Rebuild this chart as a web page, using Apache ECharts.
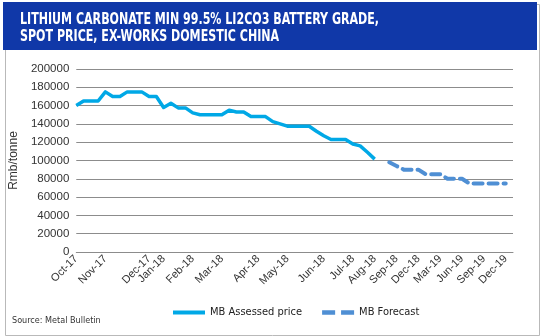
<!DOCTYPE html>
<html>
<head>
<meta charset="utf-8">
<script src="https://cdn.jsdelivr.net/npm/echarts@6/dist/echarts.min.js"></script>
<style>
html,body{margin:0;padding:0;background:#fff;}
#chart{width:540px;height:336px;}
</style>
</head>
<body>
<div id="chart"></div>
<script>
// Category axis: weekly assessments then monthly forecast points ('' = no tick label)
const categories = [
  'Oct-17','','','','Nov-17','','','','','','Dec-17','','Jan-18','','','','Feb-18','','','',
  'Mar-18','','','','','Apr-18','','','','May-18','','','','','Jun-18','','','','Jul-18','',
  '','Aug-18','','','Sep-18','','','Dec-18','','','Mar-19','','','Jun-19','','','Sep-19','','',
  'Dec-19',''
];
const assessedPrice = [
  160000,165000,165000,165000,175000,170000,170000,175000,175000,175000,
  170000,170000,158000,162500,157500,157500,152000,150000,150000,150000,
  150000,155000,153000,153000,148000,148000,148000,142500,140000,137500,
  137500,137500,137500,132000,127000,123000,123000,123000,118000,116000,
  109000,101500,null,null,null,null,null,null,null,null,
  null,null,null,null,null,null,null,null,null,null,null
];
const forecast = [
  null,null,null,null,null,null,null,null,null,null,
  null,null,null,null,null,null,null,null,null,null,
  null,null,null,null,null,null,null,null,null,null,
  null,null,null,null,null,null,null,null,null,null,
  null,null,null,98000,94000,90000,90000,90000,85000,85000,
  85000,80000,80000,80000,75000,75000,75000,75000,75000,75000,null
];
const seriesNames = ['MB Assessed price','MB Forecast'];
const titleLines = ['LITHIUM CARBONATE MIN 99.5% LI2CO3 BATTERY GRADE,','SPOT PRICE, EX-WORKS DOMESTIC CHINA'];

const COND = "'DejaVu Sans Condensed','Liberation Sans',sans-serif";
const SANS = "'Liberation Sans',Arial,sans-serif";
const chart = echarts.init(document.getElementById('chart'), null, {renderer:'canvas'});
chart.setOption({
  animation:false,
  backgroundColor:'#ffffff',
  graphic:[
    {type:'rect', left:3, top:2, shape:{width:534, height:331}, style:{fill:'none', stroke:'#b9b9b9', lineWidth:1}, z:-1},
    {type:'rect', left:3, top:2, shape:{width:534, height:48}, style:{fill:'#1038a8'}},
    {type:'text', x:20, y:13, scaleX:0.82, style:{text:titleLines[0], fill:'#ffffff', font:"bold 15px "+COND}},
    {type:'text', x:20, y:30, scaleX:0.82, style:{text:titleLines[1], fill:'#ffffff', font:"bold 15px "+COND}},
    {type:'text', left:12, top:316, style:{text:'Source: Metal Bulletin', fill:'#333333', font:"9px "+COND}}
  ],
  legend:{
    bottom:13, left:168, itemGap:20, itemWidth:32, itemHeight:10,
    textStyle:{fontFamily:COND, fontSize:11, color:'#222'},
    data:[
      {name:seriesNames[0], icon:'path://M0,3 L32,3 L32,7 L0,7 Z', itemStyle:{color:'#00a8e6'}},
      {name:seriesNames[1], icon:'path://M0,3 L11,3 L11,7 L0,7 Z M16,3 L27,3 L27,7 L16,7 Z', itemStyle:{color:'#4f8fd4'}}
    ]
  },
  grid:{left:70, top:69, width:443, height:183, containLabel:false},
  xAxis:{
    type:'category', boundaryGap:false, data:categories,
    axisLine:{show:true, lineStyle:{color:'#8c8c8c', width:1}},
    axisTick:{show:false},
    axisLabel:{interval:0, rotate:45, margin:5, fontFamily:SANS, fontSize:11, color:'#333'}
  },
  yAxis:{
    type:'value', min:0, max:200000, interval:20000,
    name:'Rmb/tonne', nameLocation:'middle', nameGap:40, nameRotate:90,
    nameTextStyle:{fontFamily:SANS, fontSize:12, color:'#333'},
    axisLine:{show:false}, axisTick:{show:false},
    axisLabel:{margin:7, fontFamily:SANS, fontSize:11.5, color:'#333', formatter:function(v){return String(v);}},
    splitLine:{lineStyle:{color:'#8c8c8c', width:1}}
  },
  series:[
    {name:seriesNames[0], type:'line', data:assessedPrice, showSymbol:false, symbol:'none', connectNulls:false,
     lineStyle:{color:'#00a8e6', width:3.5, join:'round'}, itemStyle:{color:'#00a8e6'}},
    {name:seriesNames[1], type:'line', data:forecast, showSymbol:false, symbol:'none', connectNulls:false,
     lineStyle:{color:'#4f8fd4', width:4, type:[9,6], cap:'round', join:'round'}, itemStyle:{color:'#4f8fd4'}}
  ]
});
</script>
</body>
</html>
